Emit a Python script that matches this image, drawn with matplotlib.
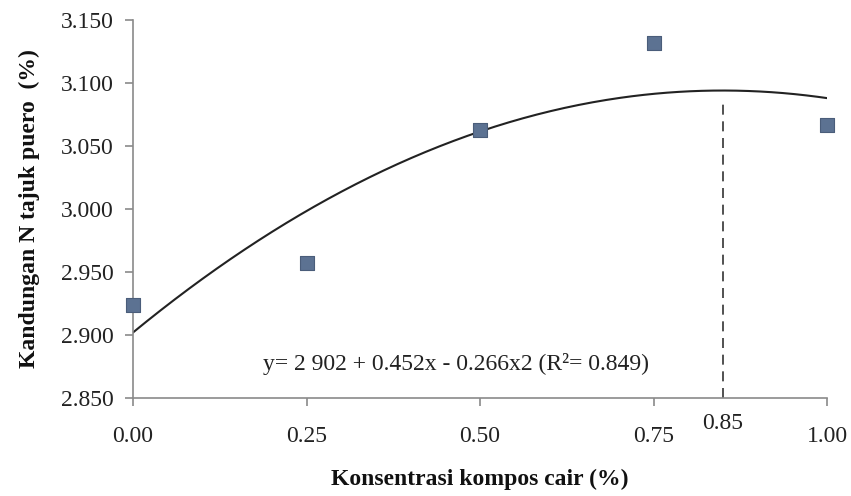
import numpy as np
import matplotlib
matplotlib.use("Agg")
import matplotlib.pyplot as plt

# Observed nitrogen content of puero shoots
konsentrasi = [0.00, 0.25, 0.50, 0.75, 1.00]
kandungan_n = [2.924, 2.957, 3.063, 3.132, 3.067]

# Quadratic regression coefficients
b0, b1, b2 = 2.902, 0.452, -0.266
r2 = 0.849
x_opt = 0.85

x_ticks = [0.00, 0.25, 0.50, 0.75, 1.00]
x_tick_labels = ["0.00", "0.25", "0.50", "0.75", "1.00"]
y_ticks = [2.850, 2.900, 2.950, 3.000, 3.050, 3.100, 3.150]

plt.rcParams["font.family"] = ["Liberation Serif", "DejaVu Serif"]

fig = plt.figure(figsize=(8.51, 4.96), dpi=100)
ax = fig.add_axes([0.1563, 0.1976, 0.8155, 0.7621])

axis_grey = "#8a8a8a"

xs = np.linspace(0, 1, 300)
ax.plot(xs, b0 + b1 * xs + b2 * xs ** 2, color="#222222", lw=1.5, zorder=2)

ax.scatter(konsentrasi, kandungan_n, marker="s", s=110, color="#5c7292",
           edgecolors="#4a5d7a", linewidths=0.8, zorder=3, clip_on=False)

y_opt = b0 + b1 * x_opt + b2 * x_opt ** 2
ax.plot([x_opt, x_opt], [2.850, y_opt - 0.006], color="#333333", lw=1.2,
        linestyle=(0, (6, 4)), zorder=2)

ax.set_xlim(0, 1)
ax.set_ylim(2.850, 3.150)
ax.set_xticks(x_ticks)
ax.set_xticklabels(x_tick_labels)
ax.set_yticks(y_ticks)
ax.set_yticklabels([f"{v:.3f}" for v in y_ticks])

for side in ("top", "right"):
    ax.spines[side].set_visible(False)
for side in ("left", "bottom"):
    ax.spines[side].set_color(axis_grey)
    ax.spines[side].set_linewidth(1.2)

ax.tick_params(axis="both", colors=axis_grey, length=6, width=1.2,
               labelcolor="#222222", labelsize=17, direction="out")
ax.tick_params(axis="x", pad=14)
ax.tick_params(axis="y", pad=8)

ax.text(x_opt, 2.850 - 0.012, "0.85", ha="center", va="top",
        fontsize=17, color="#222222")

ax.text(0.465, 2.877, f"y= 2 902 + {b1:.3f}x - {abs(b2):.3f}x2 (R\u00b2= {r2:.3f})",
        ha="center", va="center", fontsize=17, color="#222222")

ax.set_xlabel("Konsentrasi kompos cair (%)", fontsize=17, fontweight="bold",
              labelpad=16, color="#111111")
ax.set_ylabel("Kandungan N tajuk puero  (%)", fontsize=17, fontweight="bold",
              labelpad=15, color="#111111")

fig.savefig("out.png", dpi=100, facecolor="white")
